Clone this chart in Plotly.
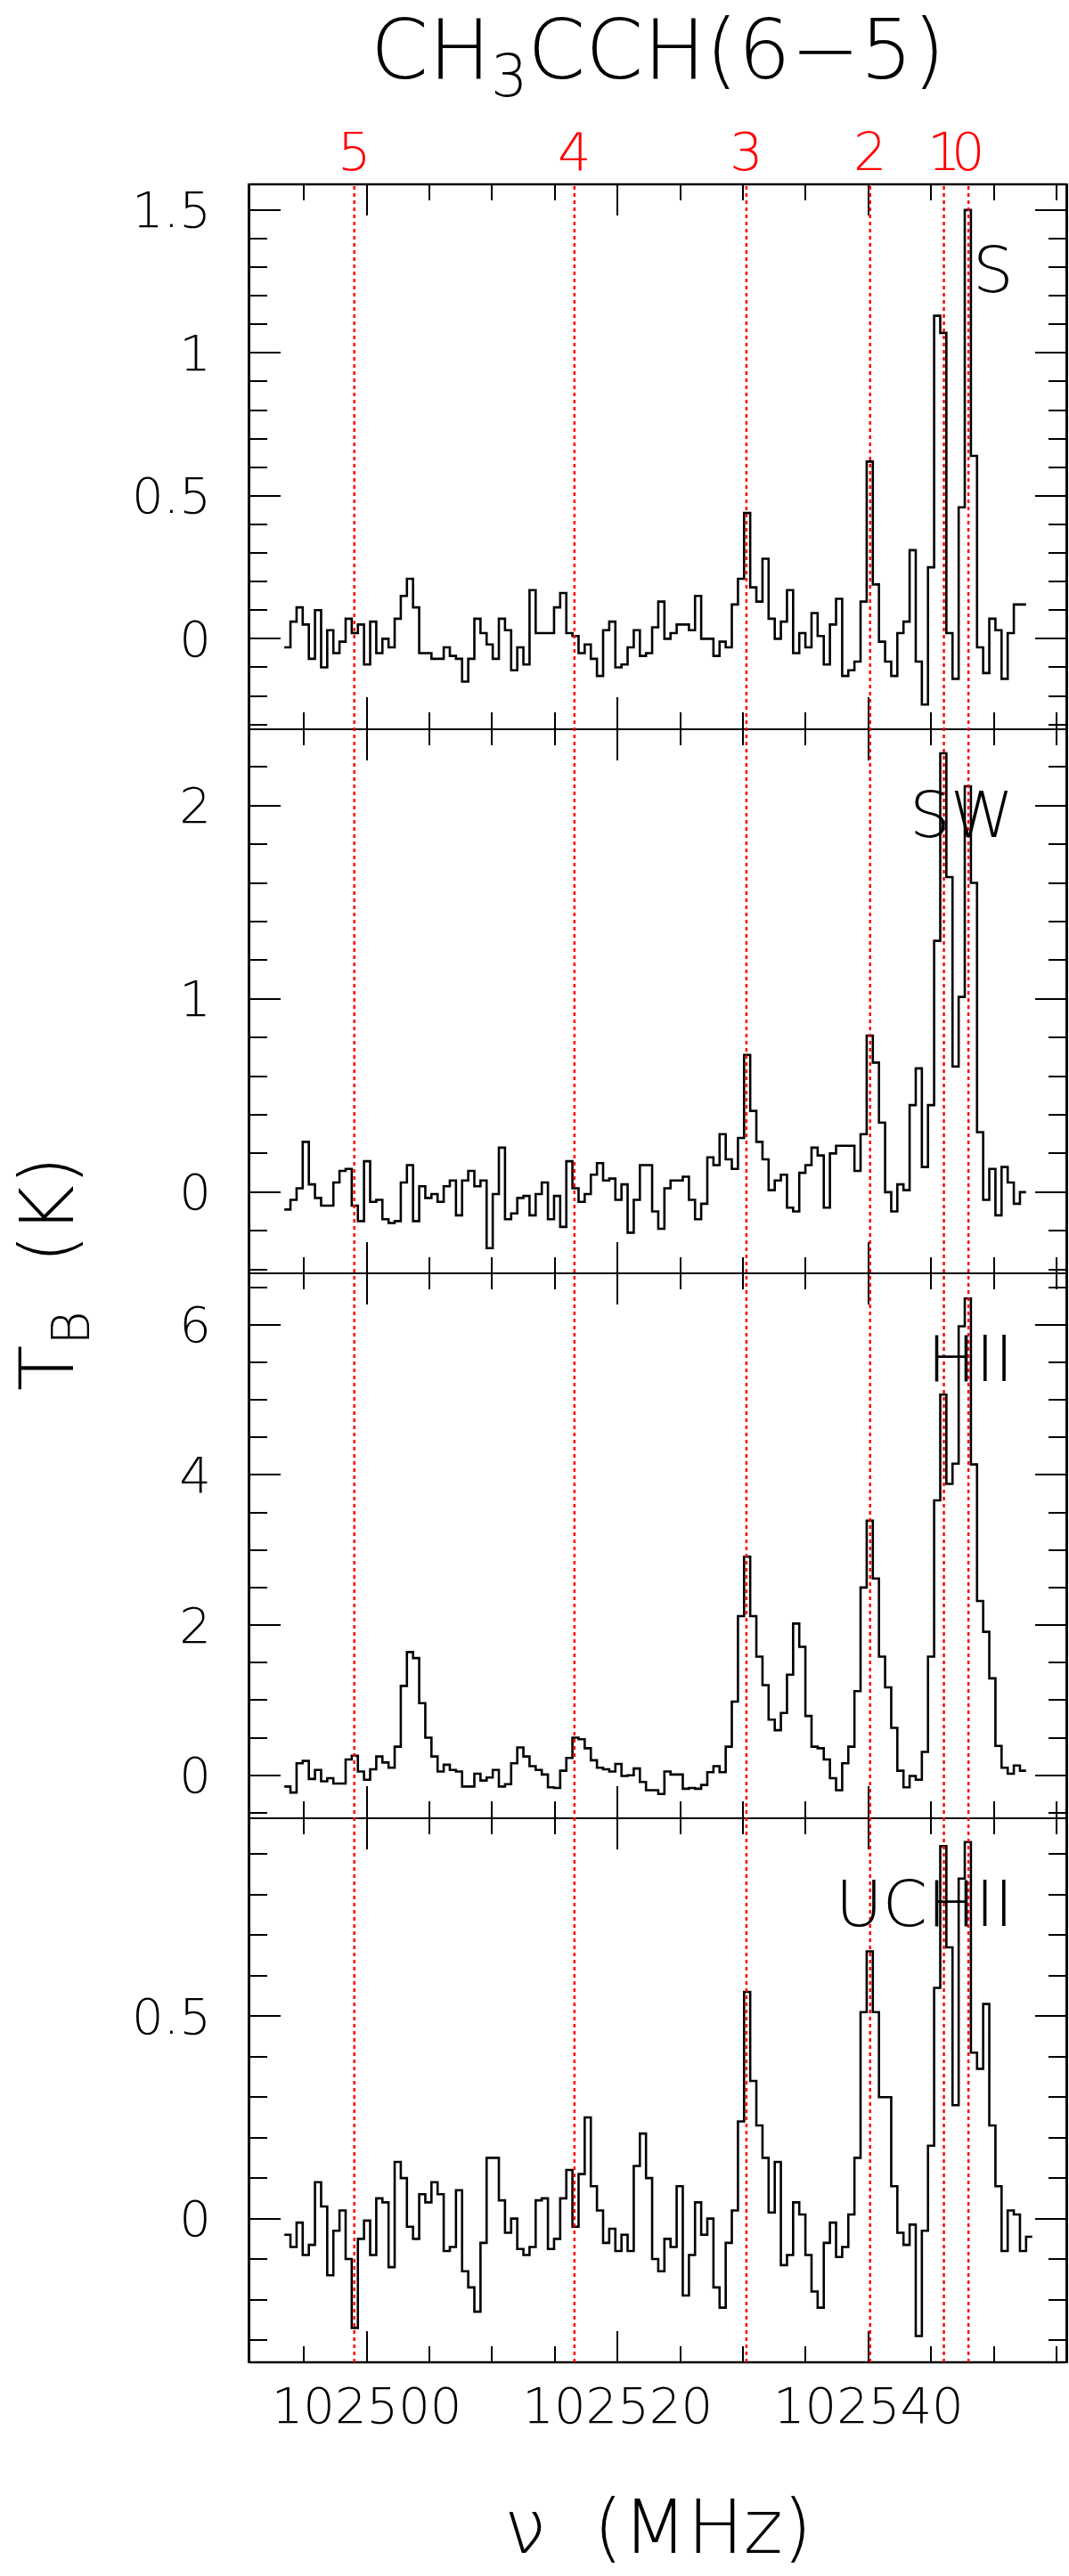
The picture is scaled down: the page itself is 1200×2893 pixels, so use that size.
import numpy as np
import plotly.graph_objects as go
from plotly.subplots import make_subplots

# Spectral grid (MHz): left edge of the first channel and channel width
nu_start = 102493.44
dnu = 0.4887

# Brightness temperatures (K), one value per channel
t_s = [-0.03, 0.06, 0.11, 0.05, -0.07, 0.10, -0.10, 0.03, -0.05, -0.01,
       0.07, 0.02, 0.05, -0.09, 0.06, -0.05, 0.0, -0.03, 0.07, 0.15,
       0.21, 0.11, -0.05, -0.05, -0.07, -0.07, -0.03, -0.06, -0.07, -0.15,
       -0.07, 0.07, 0.02, -0.02, -0.07, 0.07, 0.03, -0.11, -0.03, -0.09,
       0.17, 0.02, 0.02, 0.02, 0.11, 0.16, 0.02, 0.01, -0.05, -0.02,
       -0.07, -0.13, 0.03, 0.06, -0.10, -0.09, -0.03, 0.03, -0.06, -0.05,
       0.04, 0.13, 0.0, 0.02, 0.05, 0.05, 0.03, 0.15, 0.0, 0.0,
       -0.06, -0.01, -0.03, 0.12, 0.21, 0.44, 0.18, 0.13, 0.28, 0.07,
       0.0, 0.06, 0.17, -0.05, 0.02, -0.03, 0.09, 0.01, -0.09, 0.05,
       0.14, -0.13, -0.11, -0.08, 0.13, 0.62, 0.19, -0.01, -0.08, -0.13,
       0.02, 0.06, 0.31, -0.08, -0.23, 0.25, 1.13, 1.07, 0.02, -0.14,
       0.46, 1.50, 0.64, -0.03, -0.12, 0.07, 0.03, -0.14, 0.02, 0.12,
       0.12]

t_sw = [-0.09, -0.04, 0.02, 0.26, 0.04, -0.03, -0.07, -0.07, 0.05, 0.11,
        0.12, -0.07, -0.15, 0.16, -0.05, -0.04, -0.14, -0.16, -0.15, 0.05,
        0.14, -0.15, 0.03, -0.03, -0.01, -0.05, 0.03, 0.06, -0.12, 0.06,
        0.11, 0.03, 0.06, -0.29, -0.01, 0.23, -0.14, -0.11, -0.03, -0.02,
        -0.12, -0.01, 0.05, -0.14, -0.02, -0.18, 0.16, 0.02, -0.05, -0.01,
        0.09, 0.15, 0.06, 0.07, -0.04, 0.04, -0.21, -0.04, 0.14, 0.14,
        -0.10, -0.19, 0.02, 0.06, 0.06, 0.08, -0.04, -0.14, -0.06, 0.18,
        0.14, 0.30, 0.17, 0.12, 0.28, 0.71, 0.42, 0.26, 0.17, 0.01,
        0.06, 0.09, -0.08, -0.10, 0.10, 0.14, 0.23, 0.19, -0.08, 0.20,
        0.24, 0.24, 0.24, 0.11, 0.30, 0.81, 0.67, 0.36, 0.0, -0.10,
        0.04, 0.01, 0.45, 0.64, 0.13, 0.45, 1.30, 2.27, 1.63, 0.65,
        1.01, 2.10, 1.60, 0.31, -0.04, 0.12, -0.12, 0.13, 0.05, -0.06,
        0.0]

t_hii = [-0.15, -0.23, 0.16, 0.19, -0.05, 0.07, -0.08, -0.04, -0.11, -0.11,
         0.21, 0.26, 0.05, -0.06, 0.08, 0.25, 0.17, 0.10, 0.38, 1.19,
         1.64, 1.56, 0.96, 0.50, 0.25, 0.05, 0.14, 0.07, 0.05, -0.15,
         -0.15, 0.02, -0.07, -0.03, 0.07, -0.15, -0.12, 0.16, 0.37, 0.25,
         0.12, 0.07, 0.01, -0.16, -0.17, 0.06, 0.23, 0.50, 0.48, 0.36,
         0.20, 0.10, 0.08, 0.05, 0.15, -0.01, 0.0, 0.09, -0.09, -0.20,
         -0.20, -0.25, 0.05, 0.01, 0.01, -0.18, -0.17, -0.18, -0.13, 0.04,
         0.12, 0.04, 0.38, 0.98, 2.12, 2.91, 2.12, 1.58, 1.20, 0.74,
         0.60, 0.83, 1.34, 2.02, 1.71, 0.79, 0.38, 0.36, 0.21, -0.04,
         -0.20, 0.16, 0.38, 1.12, 2.50, 3.39, 2.62, 1.58, 1.17, 0.63,
         0.06, -0.16, -0.01, -0.06, 0.31, 1.58, 3.66, 5.07, 3.88, 4.15,
         5.98, 6.35, 4.14, 2.32, 1.91, 1.29, 0.39, 0.10, 0.02, 0.13,
         0.06]

t_uchii = [-0.04, -0.07, -0.01, -0.09, -0.065, 0.09, 0.03, -0.14, -0.03, 0.02,
           -0.10, -0.27, -0.05, -0.005, -0.09, 0.05, 0.04, -0.12, 0.14, 0.10,
           -0.02, -0.05, 0.06, 0.04, 0.09, 0.06, -0.08, -0.07, 0.07, -0.13,
           -0.17, -0.23, -0.06, 0.15, 0.15, 0.045, -0.035, 0.0, -0.075, -0.09,
           -0.07, 0.045, 0.05, -0.075, -0.05, 0.05, 0.12, -0.02, 0.11, 0.25,
           0.08, 0.02, -0.06, -0.025, -0.08, -0.04, -0.08, 0.13, 0.21, 0.10,
           -0.10, -0.13, -0.05, -0.07, 0.08, -0.19, -0.09, 0.04, -0.04, 0.0,
           -0.17, -0.22, -0.06, 0.02, 0.24, 0.56, 0.34, 0.23, 0.15, 0.015,
           0.14, -0.115, -0.09, 0.04, 0.01, -0.09, -0.18, -0.22, -0.06, -0.01,
           -0.095, -0.07, 0.01, 0.15, 0.51, 0.66, 0.51, 0.30, 0.30, 0.08,
           -0.035, -0.065, -0.015, -0.29, -0.03, 0.18, 0.57, 0.92, 0.67, 0.28,
           0.84, 0.93, 0.41, 0.37, 0.53, 0.23, 0.08, -0.08, 0.02, 0.01,
           -0.08, -0.045]

spectra = [t_s, t_sw, t_hii, t_uchii]
panel_names = ["S", "SW", "HII", "UCHII"]
y_ranges = [[-0.315, 1.59], [-0.42, 2.397], [-0.567, 6.685], [-0.355, 0.99]]
y_dticks = [0.5, 1, 2, 0.5]
y_minor = [0.1, 0.2, 0.5, 0.1]

# CH3CCH 6-5 K-ladder rest frequencies (MHz)
k_labels = ["5", "4", "3", "2", "1", "0"]
k_freqs = [102499.02, 102516.57, 102530.28, 102540.14, 102546.02, 102547.98]

x_range = [102490.73, 102555.71]

FONT = "DejaVu Sans"

fig = make_subplots(rows=4, cols=1, shared_xaxes=True, vertical_spacing=0)

for i, vals in enumerate(spectra):
    edges = nu_start + dnu * np.arange(len(vals))
    # close the last channel so every bin is drawn full width
    x = list(edges) + [edges[-1] + dnu]
    y = list(vals) + [vals[-1]]
    fig.add_trace(
        go.Scatter(x=x, y=y, mode="lines", line_shape="hv",
                   line=dict(color="black", width=2.6),
                   showlegend=False, hoverinfo="skip"),
        row=i + 1, col=1
    )

    fig.update_yaxes(
        range=y_ranges[i], dtick=y_dticks[i], tick0=0,
        ticks="inside", ticklen=34, tickwidth=2.4, tickcolor="black",
        minor=dict(dtick=y_minor[i], ticks="inside", ticklen=19,
                   tickwidth=2.4, tickcolor="black"),
        showline=True, linecolor="black", linewidth=2.7, mirror="ticks",
        showgrid=False, zeroline=False,
        tickfont=dict(family=FONT, size=56, color="black", weight=200),
        ticklabelstandoff=30,
        row=i + 1, col=1
    )

    # thin x lines: neighbouring panels' lines sit side by side at the joins
    fig.update_xaxes(
        range=x_range, dtick=20, tick0=102500,
        ticks="inside", ticklen=35, tickwidth=2.4, tickcolor="black",
        minor=dict(dtick=5, ticks="inside", ticklen=18,
                   tickwidth=2.4, tickcolor="black"),
        showline=True, linecolor="black", linewidth=1.4, mirror="ticks",
        showgrid=False, zeroline=False,
        tickformat="d",
        tickfont=dict(family=FONT, size=56, color="black", weight=200),
        ticklabelstandoff=0,
        row=i + 1, col=1
    )

    # source label in the upper right corner of each panel
    xr = "x domain" if i == 0 else f"x{i + 1} domain"
    yr = "y domain" if i == 0 else f"y{i + 1} domain"
    fig.add_annotation(
        text=panel_names[i], xref=xr, yref=yr, x=0.939, y=1,
        xanchor="right", yanchor="top", yshift=-52, showarrow=False,
        font=dict(family=FONT, size=72, color="black", weight=200)
    )

# outer top and bottom frame lines
for yp in [0, 1]:
    fig.add_shape(type="line", xref="paper", yref="paper", x0=0, x1=1,
                  y0=yp, y1=yp, line=dict(color="black", width=2.7))

# red dotted K component markers across all panels plus their labels
for lab, f in zip(k_labels, k_freqs):
    fig.add_shape(type="line", xref="x", yref="paper", x0=f, x1=f, y0=0, y1=1,
                  line=dict(color="red", width=2.5, dash="4px,4px"),
                  layer="above")
    fig.add_annotation(text=lab, xref="x", yref="paper", x=f, y=1,
                       xanchor="center", yanchor="bottom", yshift=0,
                       showarrow=False,
                       font=dict(family=FONT, size=59, color="red", weight=200))

# title and axis titles
fig.add_annotation(text="CH<sub>3</sub>CCH(6\u22125)", xref="paper", yref="paper",
                   x=0.5, y=1, xanchor="center", yanchor="bottom", yshift=82,
                   showarrow=False,
                   font=dict(family=FONT, size=93, color="black", weight=200))
fig.add_annotation(text="\u03bd  (MHz)", xref="paper", yref="paper",
                   x=0.5, y=0, xanchor="center", yanchor="bottom", yshift=-236,
                   showarrow=False,
                   font=dict(family=FONT, size=84, color="black", weight=200))
fig.add_annotation(text="T<sub>B</sub>  (K)", xref="paper", yref="paper",
                   x=0, y=0.5, xanchor="center", yanchor="middle", xshift=-222,
                   textangle=-90, showarrow=False,
                   font=dict(family=FONT, size=84, color="black", weight=200))

fig.update_layout(
    width=1200, height=2893,
    margin=dict(l=281, r=1, t=207, b=240),
    paper_bgcolor="white", plot_bgcolor="white",
    showlegend=False,
)

fig.write_html("out.html", config={"displayModeBar": False},
               post_script="document.body.style.margin='0';")
